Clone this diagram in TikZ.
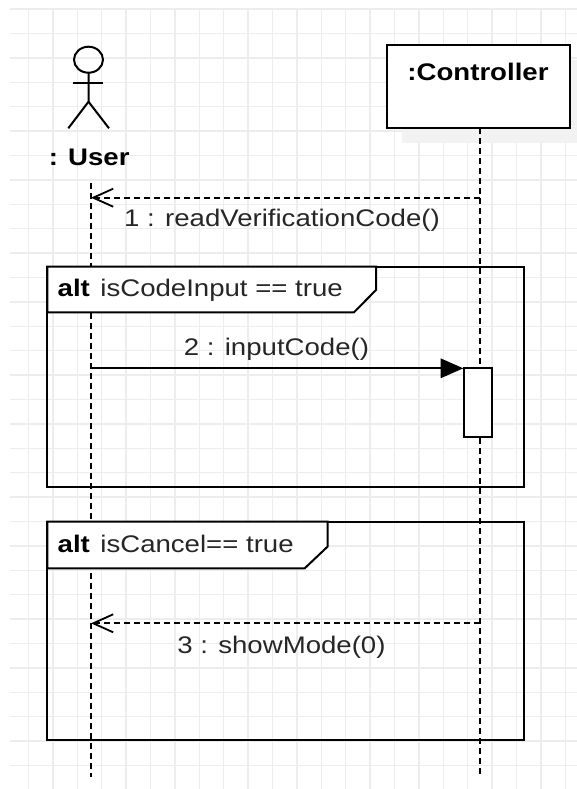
\documentclass[tikz,border=0pt]{standalone}
\usepackage{fontspec}
\setmainfont{Liberation Sans}[FakeStretch=1.15]
\usetikzlibrary{arrows.meta}
\tikzstyle{grid} = [draw=black!7, line width=0.7pt]
\tikzstyle{object} = [rectangle, draw=black, line width=1pt, fill=white, inner sep=0pt]
\tikzstyle{lifeline} = [draw=black, line width=0.9pt, dash pattern=on 3pt off 2pt]
\tikzstyle{frame} = [draw=black, line width=1pt]
\tikzstyle{call} = [line width=0.9pt, -{Triangle[length=11.3pt,width=9.7pt]}]
\tikzstyle{reply} = [line width=0.9pt, dash pattern=on 3pt off 2pt, -{Straight Barb[length=10pt,width=9pt]}]
\tikzstyle{title} = [font=\fontsize{12}{14}\selectfont\bfseries, inner sep=0pt]
\tikzstyle{msg} = [font=\fontsize{12}{14}\selectfont, text=black!85, inner sep=0pt]

\begin{document}
\begin{tikzpicture}[x=0.5pt, y=-0.5pt]
\useasboundingbox (0,0) rectangle (577,789);
\begin{scope}
\clip (10,8) rectangle (577,789);
\foreach \i in {0,...,23} \draw [grid] (28.5+24.4*\i,8) -- (28.5+24.4*\i,789);
\foreach \i in {0,...,32} \draw [grid] (10,9+24.4*\i) -- (577,9+24.4*\i);
\end{scope}

\draw [line width=1pt] (88.5,59.7) ellipse [x radius=14.5, y radius=13];
\draw [line width=1pt] (88.5,72.7) -- (88.5,101.7) -- (68.3,128.3);
\draw [line width=1pt] (88.5,101.7) -- (109,128.3);
\draw [line width=1pt] (73.3,83.3) -- (103.3,83.3);
\node (user) [title, anchor=base] at (89.2,165) {: User};

\fill [black!5] (402.3,60) rectangle (577,143.3);
\node (controller) [object, minimum width=91.35pt, minimum height=41.65pt] at (478.65,86.65) {};
\node (ctrlname) [title, anchor=base] at (478,80) {:Controller};

\coordinate (usertop) at (91,183);
\coordinate (userend) at (91,777);
\coordinate (ctrltop) at (480,128.3);
\coordinate (ctrlend) at (480,775);
\draw [lifeline] (usertop) -- (userend);
\draw [lifeline] (ctrltop) -- (ctrlend);

\coordinate (m1from) at (480,197.7);
\coordinate (m1to) at (91,197.7);
\draw [reply] (m1from) -- (m1to);
\node (m1) [msg, anchor=base] at (282,226.7) {1 : readVerificationCode()};

\draw [frame] (47.3,266.7) rectangle (523.8,487.3);
\filldraw [frame, fill=white] (47.3,266.7) -- (376,266.7) -- (376,290) -- (354,312.3) -- (47.3,312.3) -- cycle;
\node (alt1) [title, anchor=base west] at (57.3,296.7) {alt};
\node (cond1) [msg, anchor=base west] at (100,296.7) {isCodeInput == true};

\node (act) [object, minimum width=13.7pt, minimum height=34.2pt] at (478,402.5) {};
\coordinate (m2from) at (91,368.3);
\draw [call] (m2from) -- (m2from -| act.west);
\node (m2) [msg, anchor=base] at (276.5,355.7) {2 : inputCode()};

\draw [frame] (47.3,521.7) rectangle (523.8,740);
\filldraw [frame, fill=white] (47.3,521.7) -- (327.5,521.7) -- (327.5,546.7) -- (304.7,568.3) -- (47.3,568.3) -- cycle;
\node (alt2) [title, anchor=base west] at (57.3,552.3) {alt};
\node (cond2) [msg, anchor=base west] at (100,552.3) {isCancel== true};

\coordinate (m3from) at (480,623.3);
\coordinate (m3to) at (91,623.3);
\draw [reply] (m3from) -- (m3to);
\node (m3) [msg, anchor=base] at (281.5,653.3) {3 : showMode(0)};
\end{tikzpicture}
\end{document}
